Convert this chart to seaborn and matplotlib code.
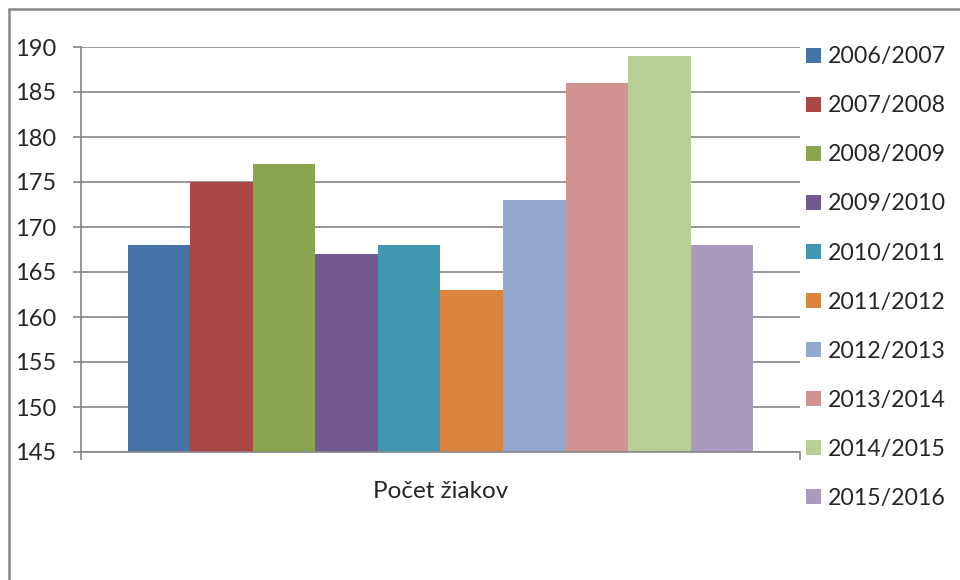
import matplotlib
matplotlib.use("Agg")
import matplotlib.pyplot as plt
from matplotlib.lines import Line2D
import seaborn as sns
import pandas as pd

# data
category = "Počet žiakov"
seasons = ["2006/2007", "2007/2008", "2008/2009", "2009/2010", "2010/2011",
           "2011/2012", "2012/2013", "2013/2014", "2014/2015", "2015/2016"]
counts = [168, 175, 177, 167, 168, 163, 173, 186, 189, 168]
colors = ["#4572A7", "#AA4643", "#89A54E", "#71588F", "#4198AF",
          "#DB843D", "#93A9CF", "#D19392", "#B9CD96", "#A99BBD"]
y_ticks = [145, 150, 155, 160, 165, 170, 175, 180, 185, 190]

df = pd.DataFrame({"kat": [category] * len(seasons), "rok": seasons, "pocet": counts})

sns.set_style("white")
plt.rcParams["font.family"] = ["Lato", "DejaVu Sans"]
grey = "#868686"

fig = plt.figure(figsize=(9.6, 5.8), dpi=100)
ax = fig.add_axes([81 / 960, 1 - 452 / 580, (800 - 81) / 960, (452 - 47) / 580])

sns.barplot(data=df, x="kat", y="pocet", hue="rok", hue_order=seasons,
            palette=colors, width=0.87, gap=0, ax=ax, legend=True,
            errorbar=None, saturation=1, linewidth=0, edgecolor="none")

ax.set_ylim(145, 190)
ax.set_xlim(-0.5, 0.5)
ax.set_yticks(y_ticks)
ax.set_yticklabels([str(v) for v in y_ticks], fontsize=17)
ax.yaxis.grid(True, color=grey, linewidth=1.2)
ax.set_axisbelow(True)
ax.set_xlabel("")
ax.set_ylabel("")

# category axis: ticks at both edges, label centred
ax.set_xticks([-0.5, 0.5])
ax.set_xticklabels(["", ""])
ax.set_xticks([0], minor=True)
ax.set_xticklabels([category], minor=True, fontsize=17.5)
ax.tick_params(axis="x", which="major", direction="out", length=6, width=1.2, color=grey)
ax.tick_params(axis="x", which="minor", length=0, pad=21)
ax.tick_params(axis="y", direction="out", length=6, width=1.2, color=grey, pad=12)
ax.yaxis.set_ticks_position("left")
ax.xaxis.set_ticks_position("bottom")

for side in ["top", "right"]:
    ax.spines[side].set_visible(False)
for side in ["left", "bottom"]:
    ax.spines[side].set_color(grey)
    ax.spines[side].set_linewidth(1.2)

# legend on the right
handles, labels = ax.get_legend_handles_labels()
ax.legend(handles, labels, loc="upper left",
          bbox_to_anchor=(797 / 960, 1 - 37 / 580), bbox_transform=fig.transFigure,
          frameon=False, fontsize=16.7, handlelength=0.63, handleheight=0.63,
          handletextpad=0.3, labelspacing=1.21, borderaxespad=0)

# outer chart frame
fig.add_artist(Line2D([9 / 960, 9 / 960], [0, 1 - 9 / 580], color=grey,
                      linewidth=1.8, transform=fig.transFigure))
fig.add_artist(Line2D([9 / 960, 1], [1 - 9 / 580, 1 - 9 / 580], color=grey,
                      linewidth=1.8, transform=fig.transFigure))

fig.savefig("out.png", dpi=100)
